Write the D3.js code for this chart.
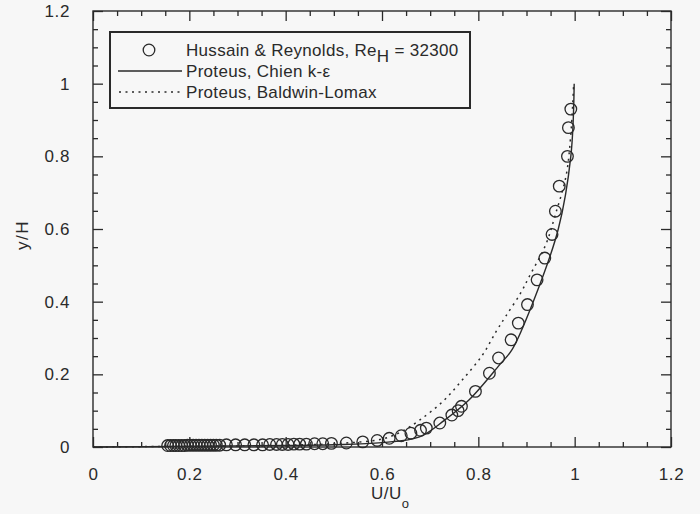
<!DOCTYPE html>
<html>
<head>
<meta charset="utf-8">
<script src="https://cdn.jsdelivr.net/npm/d3@7"></script>
<style>
  html, body { margin: 0; padding: 0; background: #f7f7f7; }
  svg { display: block; }
  text { font-family: "Liberation Sans", Arial, Helvetica, sans-serif; fill: #2a2a2a; }
</style>
</head>
<body>
<svg id="chart" width="700" height="514"></svg>
<script>
// ---- data ----
const expU = [0.155,0.161,0.167,0.172,0.178,0.184,0.19,0.196,0.202,0.208,0.214,0.22,0.226,0.232,0.238,0.244,0.25,0.256,0.263,
  0.277,0.296,0.315,0.334,0.352,0.367,0.381,0.393,0.405,0.417,0.429,0.443,0.46,0.477,0.495,0.526,0.56,0.59,0.615,0.64,0.66,0.68,0.692,
  0.72,0.745,0.758,0.765,0.794,0.823,0.842,0.868,0.883,0.902,0.922,0.938,0.953,0.96,0.968,0.985,0.987,0.992];
const expY = [0.004,0.004,0.004,0.004,0.004,0.004,0.004,0.005,0.005,0.005,0.005,0.005,0.005,0.005,0.005,0.005,0.005,0.005,0.005,
  0.006,0.006,0.006,0.006,0.006,0.007,0.007,0.007,0.007,0.008,0.008,0.008,0.009,0.009,0.010,0.011,0.014,0.018,0.024,0.031,0.038,0.046,0.052,
  0.066,0.088,0.100,0.112,0.153,0.203,0.245,0.295,0.341,0.392,0.460,0.520,0.585,0.649,0.718,0.800,0.879,0.930];

const chienU = [0,0.2,0.3,0.4,0.5,0.6,0.678,0.73,0.781,0.844,0.87,0.914,0.966,0.992,0.999];
const chienY = [0,0.002,0.003,0.004,0.006,0.012,0.028,0.074,0.13,0.226,0.268,0.4,0.6,0.8,1.0];

const blU = [0,0.2,0.3,0.4,0.5,0.6,0.64,0.678,0.726,0.767,0.809,0.837,0.857,0.888,0.906,0.94,0.96,0.982,0.992,0.998];
const blY = [0,0.002,0.003,0.005,0.009,0.022,0.042,0.074,0.125,0.185,0.254,0.318,0.36,0.424,0.47,0.557,0.64,0.745,0.86,1.0];

const majorTicks = [0,0.2,0.4,0.6,0.8,1,1.2];
const minorTicks = [0.05,0.1,0.15,0.25,0.3,0.35,0.45,0.5,0.55,0.65,0.7,0.75,0.85,0.9,0.95,1.05,1.1,1.15];
const legendLabels = ["Hussain &  Reynolds, Re", "Proteus,  Chien k-\u03B5", "Proteus,  Baldwin-Lomax"];

// ---- layout ----
const L = 93, R = 671, T = 11, B = 447;
const ink = "#2a2a2a";
const svg = d3.select("#chart");
const x = d3.scaleLinear().domain([0, 1.2]).range([L, R]);
const y = d3.scaleLinear().domain([0, 1.2]).range([B, T]);

function styleAxis(g) {
  g.selectAll("path.domain").remove();
  g.selectAll("line").attr("stroke", ink).attr("stroke-width", 1.3);
  g.selectAll("text").attr("font-size", 17).attr("fill", ink).attr("letter-spacing", 0.6);
}

// bottom
svg.append("g").attr("transform", `translate(0,${B})`)
  .call(d3.axisBottom(x).tickValues(majorTicks).tickSize(-10).tickPadding(21).tickFormat(d3.format("~g")))
  .call(styleAxis);
svg.append("g").attr("transform", `translate(0,${B})`)
  .call(d3.axisBottom(x).tickValues(minorTicks).tickSize(-5).tickFormat(""))
  .call(styleAxis);
// top
svg.append("g").attr("transform", `translate(0,${T})`)
  .call(d3.axisTop(x).tickValues(majorTicks).tickSize(-10).tickFormat(""))
  .call(styleAxis);
svg.append("g").attr("transform", `translate(0,${T})`)
  .call(d3.axisTop(x).tickValues(minorTicks).tickSize(-5).tickFormat(""))
  .call(styleAxis);
// left
svg.append("g").attr("transform", `translate(${L},0)`)
  .call(d3.axisLeft(y).tickValues(majorTicks).tickSize(-10).tickPadding(23).tickFormat(d3.format("~g")))
  .call(styleAxis);
svg.append("g").attr("transform", `translate(${L},0)`)
  .call(d3.axisLeft(y).tickValues(minorTicks).tickSize(-5).tickFormat(""))
  .call(styleAxis);
// right
svg.append("g").attr("transform", `translate(${R},0)`)
  .call(d3.axisRight(y).tickValues(majorTicks).tickSize(-10).tickFormat(""))
  .call(styleAxis);
svg.append("g").attr("transform", `translate(${R},0)`)
  .call(d3.axisRight(y).tickValues(minorTicks).tickSize(-5).tickFormat(""))
  .call(styleAxis);

// frame
svg.append("rect").attr("x", L).attr("y", T).attr("width", R - L).attr("height", B - T)
  .attr("fill", "none").attr("stroke", ink).attr("stroke-width", 1.4);

// axis titles
const xt = svg.append("text").attr("x", 371).attr("y", 499).attr("font-size", 17).attr("letter-spacing", 0.5);
xt.append("tspan").text("U/U");
xt.append("tspan").attr("dy", 9).attr("font-size", 13).text("o");
svg.append("text").attr("transform", "translate(28,235) rotate(-90)").attr("text-anchor", "middle")
  .attr("font-size", 17).attr("letter-spacing", 1.5).text("y/H");

// curves
const lineGen = d3.line().curve(d3.curveCatmullRom.alpha(0.5));
svg.append("path").datum(chienU.map((u, i) => [x(u), y(chienY[i])]))
  .attr("d", lineGen).attr("fill", "none").attr("stroke", ink).attr("stroke-width", 1.4);
svg.append("path").datum(blU.map((u, i) => [x(u), y(blY[i])]))
  .attr("d", lineGen).attr("fill", "none").attr("stroke", ink).attr("stroke-width", 1.5)
  .attr("stroke-dasharray", "2,4.5");

// experimental circles
svg.append("g").selectAll("circle").data(expU.map((u, i) => [u, expY[i]])).join("circle")
  .attr("cx", d => x(d[0])).attr("cy", d => y(d[1])).attr("r", 5.8)
  .attr("fill", "none").attr("stroke", ink).attr("stroke-width", 1.3);

// legend
const lg = svg.append("g");
lg.append("rect").attr("x", 110).attr("y", 32).attr("width", 360).attr("height", 76)
  .attr("fill", "#f7f7f7").attr("stroke", ink).attr("stroke-width", 2);
const rowY = [50, 71, 92];
lg.append("circle").attr("cx", 149).attr("cy", rowY[0]).attr("r", 5.8)
  .attr("fill", "none").attr("stroke", ink).attr("stroke-width", 1.3);
lg.append("line").attr("x1", 118).attr("x2", 182).attr("y1", rowY[1]).attr("y2", rowY[1])
  .attr("stroke", ink).attr("stroke-width", 1.4);
lg.append("line").attr("x1", 119).attr("x2", 182).attr("y1", rowY[2]).attr("y2", rowY[2])
  .attr("stroke", ink).attr("stroke-width", 1.5).attr("stroke-dasharray", "2,4.5");
const t0 = lg.append("text").attr("x", 186).attr("y", rowY[0] + 6).attr("font-size", 17).attr("letter-spacing", 0.3);
t0.append("tspan").text(legendLabels[0]);
t0.append("tspan").attr("dy", 6).text("H");
t0.append("tspan").attr("dy", -6).text(" = 32300");
lg.append("text").attr("x", 186).attr("y", rowY[1] + 6).attr("font-size", 17).attr("letter-spacing", 0.3).text(legendLabels[1]);
lg.append("text").attr("x", 186).attr("y", rowY[2] + 6).attr("font-size", 17).attr("letter-spacing", 0.3).text(legendLabels[2]);
</script>
</body>
</html>
